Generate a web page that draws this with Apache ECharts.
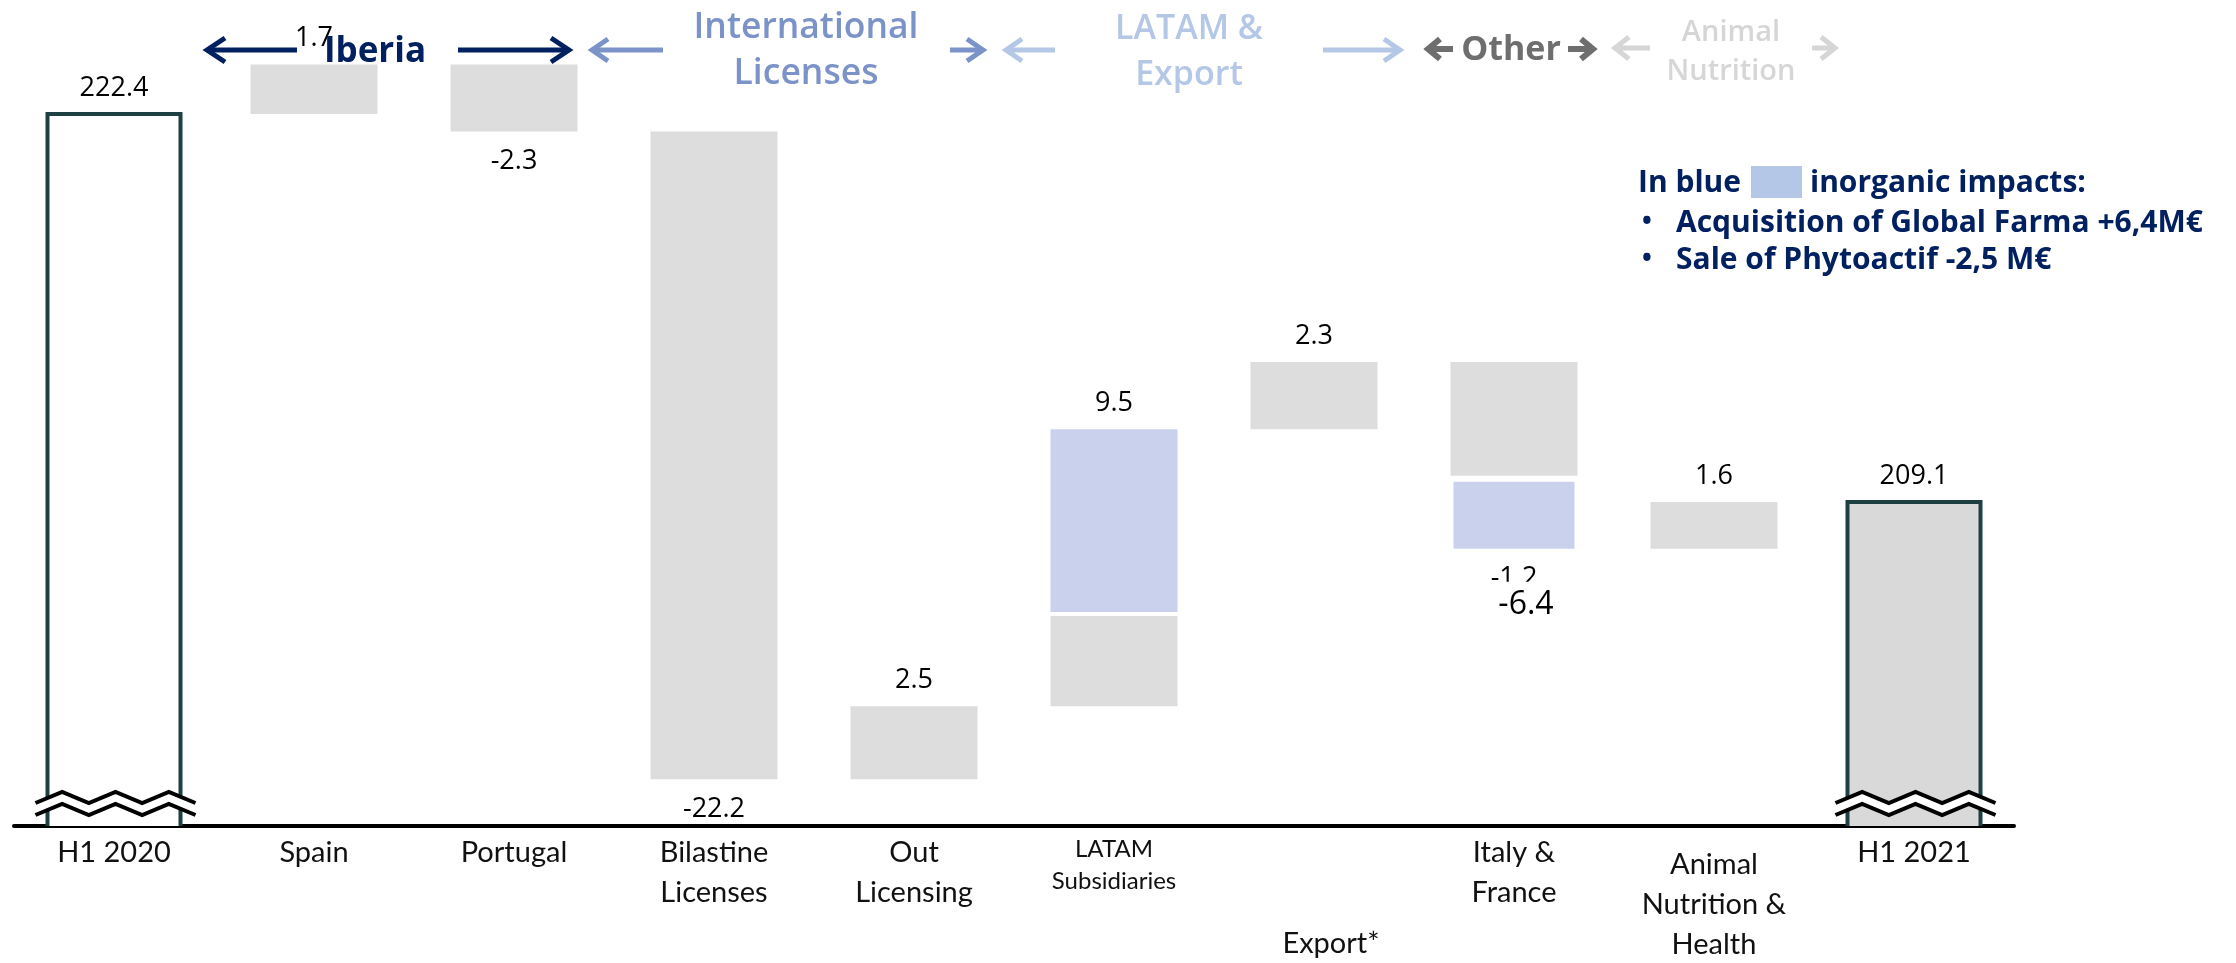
<!DOCTYPE html>
<html>
<head>
<meta charset="utf-8">
<script src="https://cdn.jsdelivr.net/npm/echarts@6/dist/echarts.min.js"></script>
<style>
  html, body { margin: 0; padding: 0; background: #fff; }
  #chart { width: 2236px; height: 963px; }
</style>
</head>
<body>
<div id="chart"></div>
<script>
// Net sales bridge, H1 2020 -> H1 2021 (M€)
const categories = ['H1 2020', 'Spain', 'Portugal', 'Bilastine\nLicenses', 'Out\nLicensing',
  'LATAM\nSubsidiaries', 'Export*', 'Italy &\nFrance', 'Animal\nNutrition &\nHealth', 'H1 2021'];
const startTotal = 222.4;
const endTotal = 209.1;
// change per step (Spain ... Animal Nutrition & Health)
const changes = [1.7, -2.3, -22.2, 2.5, 9.5, 2.3, -6.4, 1.6];
// inorganic share of each change (Global Farma acquisition, Phytoactif sale)
const inorganic = [0, 0, 0, 0, 6.4, 0, -2.5, 0];
// additional figure printed under a step
const secondaryLabels = [null, null, null, null, null, null, '-1.2', null];

const Y_MIN = 198, Y_MAX = 226;
const GREY = '#dddddd', BLUE = '#c9d1ed', NAVY = '#002060';

// waterfall segments and value labels
const segs = [];
const labels = [];
segs.push({ cat: 0, low: Y_MIN, high: startTotal, kind: 'open' });
labels.push({ cat: 0, value: startTotal, text: startTotal.toFixed(1), up: true });
let level = startTotal;
changes.forEach((c, i) => {
  const cat = i + 1;
  const inorg = inorganic[i];
  const mid = level + (c - inorg);
  const end = level + c;
  segs.push({ cat, low: Math.min(level, mid), high: Math.max(level, mid), kind: 'organic' });
  if (inorg !== 0) {
    segs.push({ cat, low: Math.min(mid, end), high: Math.max(mid, end), kind: 'inorganic', up: c > 0 });
  }
  labels.push({
    cat, value: c > 0 ? Math.max(level, end) : Math.min(level, end),
    text: c.toFixed(1), up: c > 0, extra: secondaryLabels[i]
  });
  level = end;
});
segs.push({ cat: 9, low: Y_MIN, high: endTotal, kind: 'filled' });
labels.push({ cat: 9, value: endTotal, text: endTotal.toFixed(1), up: true });

function renderBar(params, api) {
  const s = segs[params.dataIndex];
  const top = api.coord([api.value(0), api.value(2)]);
  const bot = api.coord([api.value(0), api.value(1)]);
  const band = api.size([1, 0])[0];
  const cx = top[0];
  if (s.kind === 'open' || s.kind === 'filled') {
    const w = band * 0.665, x0 = cx - w / 2, x1 = cx + w / 2, yT = top[1], yB = bot[1];
    const children = [
      { type: 'rect', shape: { x: x0, y: yT, width: w, height: yB - yT },
        style: { fill: s.kind === 'open' ? '#ffffff' : '#d9d9d9' } },
      { type: 'polyline', shape: { points: [[x0, yB], [x0, yT], [x1, yT], [x1, yB]] },
        style: { stroke: '#1e4042', lineWidth: 4, fill: null } }
    ];
    // axis-break zigzag near the base
    const zx0 = x0 - 12, zx1 = x1 + 15, n = 6;
    const upper = [], lower = [];
    for (let k = 0; k <= n; k++) {
      const x = zx0 + (zx1 - zx0) * k / n;
      upper.push([x, yB - (k % 2 ? 34 : 23)]);
      lower.push([x, yB - (k % 2 ? 22 : 11)]);
    }
    children.push({ type: 'polygon', shape: { points: upper.concat(lower.slice().reverse()) },
      style: { fill: '#ffffff' } });
    children.push({ type: 'polyline', shape: { points: upper }, style: { stroke: '#000', lineWidth: 4, fill: null } });
    children.push({ type: 'polyline', shape: { points: lower }, style: { stroke: '#000', lineWidth: 4, fill: null } });
    return { type: 'group', children };
  }
  const w = band * 0.635;
  let x0 = cx - w / 2, ww = w, yT = top[1], yB = bot[1];
  let fill = GREY;
  if (s.kind === 'inorganic') {
    fill = BLUE;
    if (s.up) { yB -= 4; } else { yT += 6; x0 += 3; ww -= 6; }
  }
  return { type: 'rect', shape: { x: x0, y: yT, width: ww, height: yB - yT }, style: { fill } };
}

const VFONT = '27px "Open Sans"';
function renderLabel(params, api) {
  const l = labels[params.dataIndex];
  const p = api.coord([api.value(0), api.value(1)]);
  const base = { align: 'center', verticalAlign: 'middle', font: VFONT, fill: '#000' };
  if (l.up) return { type: 'text', style: Object.assign({ text: l.text, x: p[0], y: p[1] - 26 }, base) };
  if (!l.extra) return { type: 'text', style: Object.assign({ text: l.text, x: p[0], y: p[1] + 30 }, base) };
  // total change printed over the secondary figure, on a white box
  return {
    type: 'group', children: [
      { type: 'text', style: Object.assign({ text: l.extra, x: p[0], y: p[1] + 30 }, base) },
      { type: 'text', style: Object.assign({}, base, {
          text: l.text, x: p[0] + 12, y: p[1] + 56, font: '32px "Open Sans"', lineHeight: 34,
          backgroundColor: '#ffffff', padding: [12, 6, 0, 6] }) }
    ]
  };
}

// header arrows: shaft plus chevron head at xTo
function arrow(xFrom, xTo, y, color, lw, hl, hh) {
  const d = Math.sign(xTo - xFrom);
  return [
    { type: 'polyline', z: 100, shape: { points: [[xFrom, y], [xTo - d * 3, y]] },
      style: { stroke: color, lineWidth: lw, fill: null } },
    { type: 'polyline', z: 100, shape: { points: [[xTo - d * hl, y - hh], [xTo - d * 2, y], [xTo - d * hl, y + hh]] },
      style: { stroke: color, lineWidth: lw, fill: null, lineJoin: 'miter' } }
  ];
}
function headText(text, x, y, font, color, lineHeight, align) {
  return { type: 'text', z: 100, style: { text, x, y, font, fill: color, lineHeight,
    align: align || 'center', verticalAlign: 'middle' } };
}

const INTL = '#7b93c8', LAT = '#b4c7e7', OTH = '#6e6e6e', ANI = '#d6d6d6';
const graphics = [].concat(
  arrow(297, 205, 50, NAVY, 5, 20, 12),
  arrow(458, 571, 50, NAVY, 5, 20, 12),
  [headText('Iberia', 375, 52, 'bold 35px "Open Sans"', NAVY)],
  arrow(663, 590, 50, INTL, 5, 18, 11),
  arrow(950, 985, 50, INTL, 5, 18, 11),
  [headText('International\nLicenses', 806, 51, '600 35.5px "Open Sans"', INTL, 46)],
  arrow(1055, 1004, 50, LAT, 5, 18, 11),
  arrow(1323, 1402, 50, LAT, 5, 18, 11),
  [headText('LATAM &\nExport', 1189, 52, '600 34px "Open Sans"', LAT, 46)],
  arrow(1453, 1426, 49, OTH, 6, 14, 10),
  arrow(1568, 1595, 49, OTH, 6, 14, 10),
  [headText('Other', 1511, 50, 'bold 34px "Open Sans"', OTH)],
  arrow(1650, 1613, 48, ANI, 5, 16, 11),
  arrow(1812, 1837, 48, ANI, 5, 16, 11),
  [headText('Animal\nNutrition', 1731, 52, '600 29px "Open Sans"', ANI, 39)],
  // note on inorganic impacts
  [
    headText('In blue', 1638, 183, 'bold 30px "Open Sans"', NAVY, null, 'left'),
    { type: 'rect', z: 100, shape: { x: 1751, y: 166, width: 51, height: 32 }, style: { fill: LAT } },
    headText('inorganic impacts:', 1810, 183, 'bold 30px "Open Sans"', NAVY, null, 'left'),
    headText('•', 1642, 223, 'bold 26px "Open Sans"', NAVY, null, 'left'),
    headText('Acquisition of Global Farma +6,4M€', 1676, 223, 'bold 30px "Open Sans"', NAVY, null, 'left'),
    headText('•', 1642, 260, 'bold 26px "Open Sans"', NAVY, null, 'left'),
    headText('Sale of Phytoactif -2,5 M€', 1676, 260, 'bold 30px "Open Sans"', NAVY, null, 'left')
  ]
);

const chart = echarts.init(document.getElementById('chart'));
chart.setOption({
  animation: false,
  backgroundColor: '#ffffff',
  grid: { left: 14, right: 222, top: 9, bottom: 137 },
  xAxis: {
    type: 'category',
    data: categories,
    axisTick: { show: false },
    axisLine: { onZero: false, lineStyle: { color: '#000', width: 4 } },
    axisLabel: {
      interval: 0, margin: 7, color: '#111',
      formatter: (v, i) => {
        const lines = v.split('\n');
        if (i === 5) return lines.map(t => `{s|${t}}`).join('\n');
        if (i === 6) return `{gapL| }\n{e|${v}}`;
        if (i === 8) return `{gapS| }\n` + lines.map(t => `{n|${t}}`).join('\n');
        return lines.map(t => `{n|${t}}`).join('\n');
      },
      rich: {
        n: { fontFamily: 'Lato', fontSize: 29, lineHeight: 40, color: '#111' },
        e: { fontFamily: 'Lato', fontSize: 29, lineHeight: 40, color: '#111', padding: [0, 0, 0, 34] },
        s: { fontFamily: 'Lato', fontSize: 24, lineHeight: 32, color: '#111' },
        gapL: { fontSize: 1, lineHeight: 91 },
        gapS: { fontSize: 1, lineHeight: 12 }
      }
    }
  },
  yAxis: { type: 'value', min: Y_MIN, max: Y_MAX, show: false },
  series: [
    {
      type: 'custom', name: 'bars',
      data: segs.map(s => [s.cat, s.low, s.high]),
      encode: { x: 0, y: [1, 2] },
      renderItem: renderBar
    },
    {
      type: 'custom', name: 'values', z: 3,
      data: labels.map(l => [l.cat, l.value]),
      encode: { x: 0, y: 1 },
      renderItem: renderLabel
    }
  ],
  graphic: graphics
});
</script>
</body>
</html>
